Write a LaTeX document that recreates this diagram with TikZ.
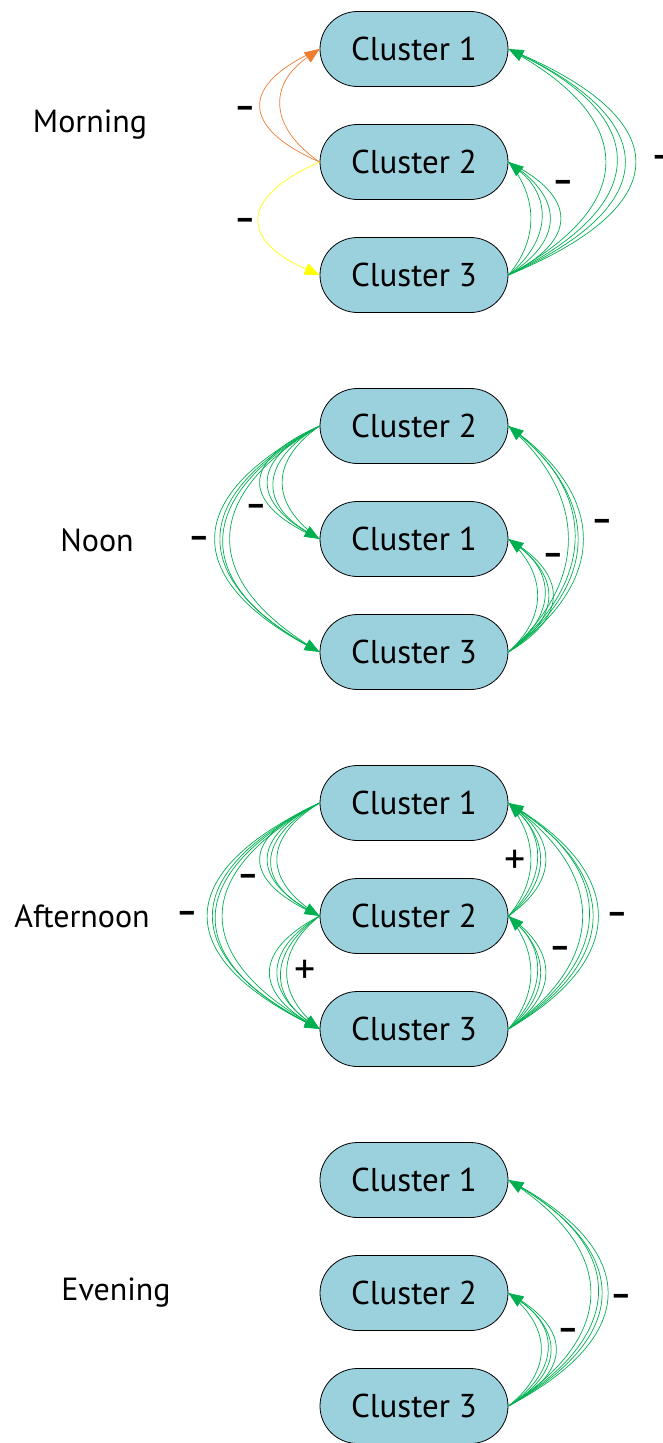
\documentclass[tikz,border=0pt]{standalone}
\usepackage{fontspec}
\setmainfont{PT Sans}
\usetikzlibrary{shapes.misc,arrows.meta}
\definecolor{boxfill}{RGB}{155,209,221}
\definecolor{grn}{RGB}{0,176,80}
\definecolor{org}{RGB}{237,125,49}
\definecolor{ylw}{RGB}{255,255,0}
\tikzset{
 cl/.style={rounded rectangle, draw=black, line width=0.8pt, fill=boxfill, minimum width=188pt, minimum height=75pt, inner sep=0pt, font=\fontsize{33}{38}\selectfont},
 tlabel/.style={font=\fontsize{32}{38}\selectfont, inner sep=0pt},
 sgn/.style={font=\fontsize{32}{36}\selectfont\bfseries, inner sep=0pt},
 pls/.style={font=\fontsize{42}{46}\selectfont, inner sep=0pt},
 ln/.style={line width=0.7pt},
 tip/.style={-{Triangle[length=15pt,width=12pt]}},
}
\begin{document}
\begin{tikzpicture}[x=1pt,y=-1pt]
\useasboundingbox (0,0) rectangle (663,1443);
% ---------- Morning ----------
\node[tlabel] (tm) at (90,125) {Morning};
\node[cl] (m1) at (414,49) {Cluster 1};
\node[cl] (m2) at (414,162) {Cluster 2};
\node[cl] (m3) at (414,275) {Cluster 3};
\foreach \h/\t in {51/tip,80/}
  \draw[ln,org,\t] (m2.west) .. controls +(-\h,-35) and +(-\h,35) .. (m1.west);
\draw[ln,ylw,tip] (m2.west) .. controls +(-80,35) and +(-80,-35) .. (m3.west);
\foreach \h/\t in {30/,43/tip,56/,70/}
  \draw[ln,grn,\t] (m3.east) .. controls +(\h,-35) and +(\h,35) .. (m2.east);
\foreach \h/\t in {130/,143/tip,156/,170/}
  \draw[ln,grn,\t] (m3.east) .. controls +(\h,-70) and +(\h,70) .. (m1.east);
\node[sgn] (sm1) at (245,112) {–};
\node[sgn] (sm2) at (245,224) {–};
\node[sgn] (sm3) at (563,186) {–};
\node[sgn] (sm4) at (662,161) {–};
% ---------- Noon ----------
\node[tlabel] (tn) at (97,540) {Noon};
\node[cl] (n2) at (414,426) {Cluster 2};
\node[cl] (n1) at (414,539) {Cluster 1};
\node[cl] (n3) at (414,652) {Cluster 3};
\foreach \h/\t in {50/,60/tip,70/,80/}
  \draw[ln,grn,\t] (n2.west) .. controls +(-\h,35) and +(-\h,-35) .. (n1.west);
\foreach \h/\t in {120/,127/tip,133/,140/}
  \draw[ln,grn,\t] (n2.west) .. controls +(-\h,70) and +(-\h,-70) .. (n3.west);
\foreach \h/\t in {39/,47/tip,54/,60/}
  \draw[ln,grn,\t] (n3.east) .. controls +(\h,-35) and +(\h,35) .. (n1.east);
\foreach \h/\t in {80/,87/tip,93/,100/}
  \draw[ln,grn,\t] (n3.east) .. controls +(\h,-70) and +(\h,70) .. (n2.east);
\node[sgn] (sn1) at (199,542) {–};
\node[sgn] (sn2) at (256,510) {–};
\node[sgn] (sn3) at (553,559) {–};
\node[sgn] (sn4) at (602,525) {–};
% ---------- Afternoon ----------
\node[tlabel] (ta) at (82,916) {Afternoon};
\node[cl] (a1) at (414,803) {Cluster 1};
\node[cl] (a2) at (414,916) {Cluster 2};
\node[cl] (a3) at (414,1029) {Cluster 3};
\foreach \h/\t in {57/,63/tip,70/,80/}
  \draw[ln,grn,\t] (a1.west) .. controls +(-\h,35) and +(-\h,-35) .. (a2.west);
\foreach \h/\t in {130/,137/tip,143/,150/}
  \draw[ln,grn,\t] (a1.west) .. controls +(-\h,70) and +(-\h,-70) .. (a3.west);
\foreach \h/\t in {44/,50/tip,57/,67/}
  \draw[ln,grn,\t] (a2.west) .. controls +(-\h,35) and +(-\h,-35) .. (a3.west);
\foreach \h/\t in {30/,37/tip,43/,50/}
  \draw[ln,grn,\t] (a2.east) .. controls +(\h,-35) and +(\h,35) .. (a1.east);
\foreach \h/\t in {30/,37/tip,43/,50/}
  \draw[ln,grn,\t] (a3.east) .. controls +(\h,-35) and +(\h,35) .. (a2.east);
\foreach \h/\t in {99/,106/tip,113/,120/}
  \draw[ln,grn,\t] (a3.east) .. controls +(\h,-70) and +(\h,70) .. (a1.east);
\node[sgn] (sa1) at (187,917) {–};
\node[sgn] (sa2) at (248,880) {–};
\node[pls] (pa1) at (305,972) {+};
\node[pls] (pa2) at (515,862) {+};
\node[sgn] (sa3) at (560,952) {–};
\node[sgn] (sa4) at (617,918) {–};
% ---------- Evening ----------
\node[tlabel] (te) at (116,1293) {Evening};
\node[cl] (e1) at (414,1180) {Cluster 1};
\node[cl] (e2) at (414,1293) {Cluster 2};
\node[cl] (e3) at (414,1406) {Cluster 3};
\foreach \h/\t in {110/,118/tip,125/,133/}
  \draw[ln,grn,\t] (e3.east) .. controls +(\h,-70) and +(\h,70) .. (e1.east);
\foreach \h/\t in {44/,51/tip,57/,64/}
  \draw[ln,grn,\t] (e3.east) .. controls +(\h,-35) and +(\h,35) .. (e2.east);
\node[sgn] (se1) at (568,1334) {–};
\node[sgn] (se2) at (621,1300) {–};
\end{tikzpicture}
\end{document}
